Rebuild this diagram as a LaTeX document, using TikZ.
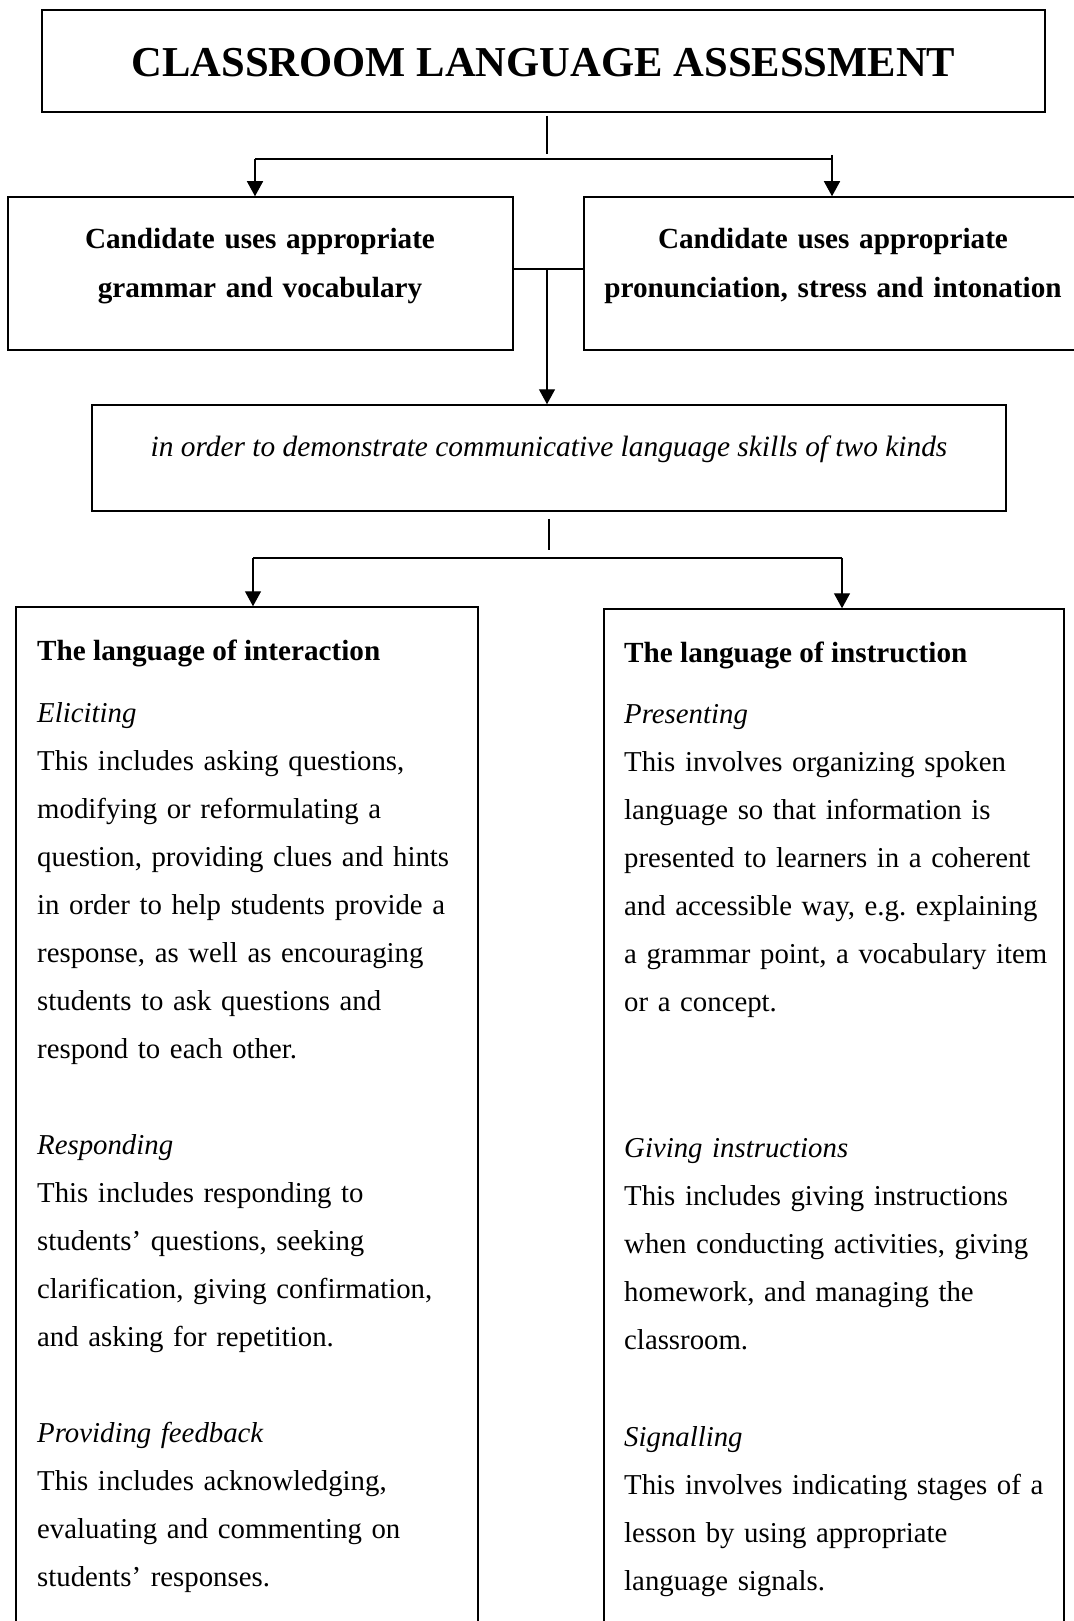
\documentclass[tikz,border=0pt]{standalone}
\usepackage{fontspec}
\setmainfont{Liberation Serif}
\usetikzlibrary{arrows.meta}
\newcommand\bodysize{\fontsize{28.8}{48}\selectfont\frenchspacing}
\newcommand\headsize{\fontsize{29.2}{48}\selectfont\frenchspacing}
\begin{document}
\begin{tikzpicture}[x=1pt,y=-1pt,
  box/.style={draw=black,line width=1.5pt,rectangle,inner sep=0pt},
  conn/.style={draw=black,line width=1.4pt},
  arr/.style={conn,-{Triangle[width=16pt,length=15pt]}},
  boldtxt/.style={font=\headsize\bfseries,inner sep=0pt},
  sec/.style={font=\bodysize,text width=445pt,align=left,inner sep=0pt,anchor=base west},
  ctr/.style={font=\headsize\bfseries,text width=500pt,align=center,inner sep=0pt,anchor=base}]
\useasboundingbox (0,0) rectangle (1073,1621);
% boxes
\node[box,minimum width=1003pt,minimum height=102pt,text height=32pt,text depth=0pt,
      font=\fontsize{42.6}{50}\selectfont\bfseries] (title) at (543.5,61) {CLASSROOM LANGUAGE ASSESSMENT};
\node[box,minimum width=505pt,minimum height=153pt] (gram) at (260.5,273.5) {};
\node[box,minimum width=506pt,minimum height=153pt] (pron) at (837,273.5) {};
\node[box,minimum width=914pt,minimum height=106pt] (purpose) at (549,458) {};
\node[box,minimum width=462pt,minimum height=1073pt] (inter) at (247,1143.5) {};
\node[box,minimum width=460pt,minimum height=1071pt] (instr) at (834,1144.5) {};
% box texts
\node[ctr] (gramtext) at (260,249) {Candidate uses appropriate\\grammar and vocabulary};
\node[ctr] (prontext) at (833,249) {Candidate uses appropriate\\pronunciation, stress and intonation};
\node[font=\fontsize{29.4}{48}\selectfont\itshape,inner sep=0pt,anchor=base] (purposetext) at (549,456)
  {in order to demonstrate communicative language skills of two kinds};
\node[boldtxt,anchor=base west] (interhead) at (37,660) {The language of interaction};
\node[boldtxt,anchor=base west] (instrhead) at (624,662) {The language of instruction};
\node[sec] (elicit) at (37,722) {\textit{Eliciting}\\This includes asking questions,\\modifying or reformulating a\\question, providing clues and hints\\in order to help students provide a\\response, as well as encouraging\\students to ask questions and\\respond to each other.};
\node[sec] (respond) at (37,1154) {\textit{Responding}\\This includes responding to\\students’ questions, seeking\\clarification, giving confirmation,\\and asking for repetition.};
\node[sec] (feedback) at (37,1442) {\textit{Providing feedback}\\This includes acknowledging,\\evaluating and commenting on\\students’ responses.};
\node[sec] (present) at (624,723) {\textit{Presenting}\\This involves organizing spoken\\language so that information is\\presented to learners in a coherent\\and accessible way, e.g. explaining\\a grammar point, a vocabulary item\\or a concept.};
\node[sec] (instruct) at (624,1157) {\textit{Giving instructions}\\This includes giving instructions\\when conducting activities, giving\\homework, and managing the\\classroom.};
\node[sec] (signal) at (624,1446) {\textit{Signalling}\\This involves indicating stages of a\\lesson by using appropriate\\language signals.};
% connectors
\coordinate (j1) at (547,159);
\coordinate (j1L) at (255,159);
\coordinate (j1R) at (832,159);
\coordinate (j1Rtop) at (832,155);
\draw[conn] ([yshift=-3pt]title.south -| j1) -- ([yshift=5pt]j1);
\draw[conn] (j1L) -- (j1R);
\draw[arr] (j1L) -- (j1L |- gram.north);
\draw[arr] (j1Rtop) -- (j1R |- pron.north);
\coordinate (j2) at (547,269);
\draw[conn] (j2 -| gram.east) -- (j2 -| pron.west);
\draw[arr] (j2) -- (j2 |- purpose.north);
\coordinate (j3) at (549,558);
\coordinate (j3L) at (253,558);
\coordinate (j3R) at (842,558);
\draw[conn] ([yshift=-7pt]purpose.south -| j3) -- ([yshift=8pt]j3);
\draw[conn] (j3L) -- (j3R);
\draw[arr] (j3L) -- (j3L |- inter.north);
\draw[arr] (j3R) -- (j3R |- instr.north);
\end{tikzpicture}
\end{document}
